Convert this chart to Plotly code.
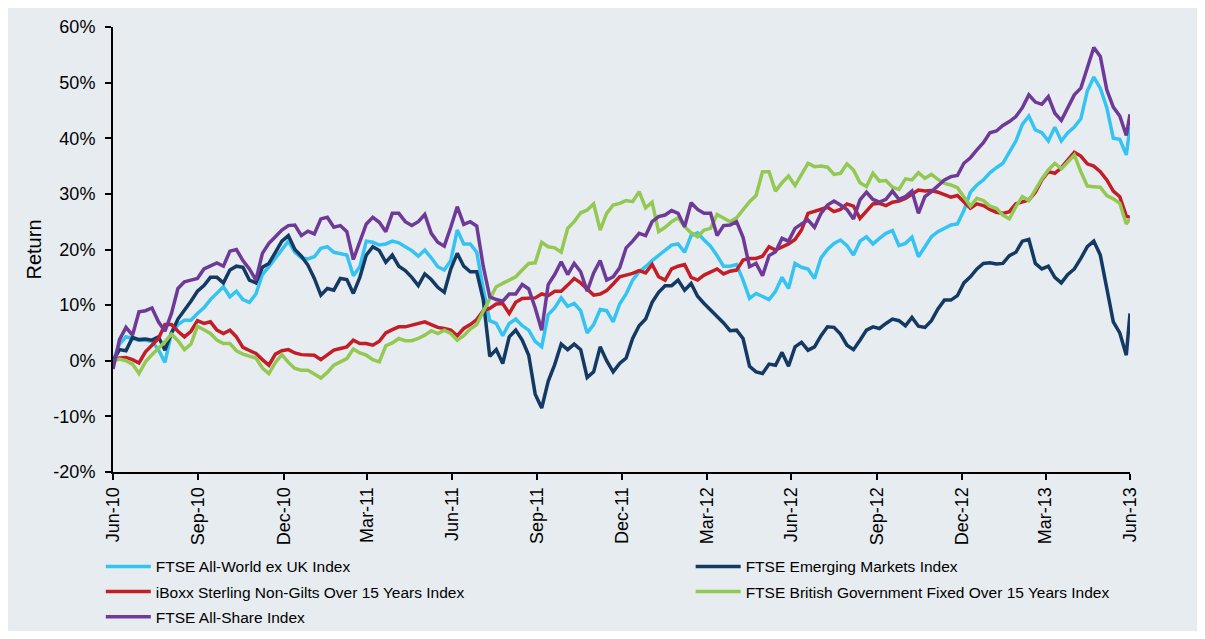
import pandas as pd
import plotly.graph_objects as go

# weekly observation dates, plus the final month-end
dates = list(pd.date_range("2010-06-30", periods=157, freq="7D").strftime("%Y-%m-%d")) + ["2013-06-30"]

# cumulative returns in %
all_world = [0, 3, 4.3, 4, 3.7, 3.7, 3.5, 2, -0.3, 5, 6.5, 7.3, 7.3, 8.5, 9.5, 11, 12.1, 13.3, 11.5, 12.5,
             11, 10.5, 12, 15.5, 16.9, 18.5, 19.9, 21.5, 19.5, 18.5, 18.3, 18.7, 20.2, 20.5, 19.5, 19.3, 19, 15.3, 16.9,
             21.5, 21.3, 20.8, 21, 21.5, 21.2, 20.5, 19.8, 18.8, 19.9, 18.5, 16.9, 16.3, 18, 23.5, 21, 21, 19.5, 13,
             7.2, 6.7, 4.5, 6.7, 7.5, 6.3, 5.5, 3.5, 2.5, 8.3, 9.5, 11.3, 9.8, 10.3, 9, 5, 6.5, 9.2, 9,
             7, 10.2, 12, 14.5, 16, 16.9, 18, 19, 19.9, 20.8, 21, 19.5, 22.5, 23, 21.7, 20.6, 18.9, 17, 17,
             17.3, 14.5, 11.2, 12.1, 11.5, 11, 12.5, 15, 13, 17.5, 16.8, 16.5, 14.8, 18.5, 20, 21.1, 21.7, 20.7, 19, 21.5,
             22.3, 21, 22, 22.9, 23.4, 20.7, 21.1, 22.2, 18.7, 20.5, 22.3, 23.2, 23.8, 24.4, 24.6, 27, 30.3, 31.6, 32.5, 33.8,
             34.7, 35.5, 37.5, 39.5, 42.5, 44, 41.5, 41, 39.5, 42, 39.5, 41, 42, 43.5, 48.5, 51, 49, 45.5, 40, 39.8, 37,
             42]
emerging = [0, 2, 1.8, 4.2, 3.8, 3.9, 3.7, 4.3, 1.9, 5, 7.5, 9, 10.7, 12.5, 13.5, 15, 15, 14, 16.3, 17,
            16.8, 14.5, 14, 16.8, 17.5, 19.5, 21.5, 22.5, 20, 18.8, 17.2, 14.8, 11.8, 13, 12.7, 14.8, 14.6, 12.1, 15,
            19, 20.5, 19.8, 17.7, 19, 17, 16.2, 15, 13.5, 15.6, 14.6, 13.2, 12.3, 16.5, 19.3, 17, 16, 16, 11,
            0.8, 2, -0.5, 4.3, 5.5, 3.7, 1, -6, -8.5, -3.7, -0.7, 3, 2, 3, 2, -3, -2, 2.5, 0,
            -2, -0.5, 0.5, 4, 6.3, 7.5, 10.5, 12.3, 13.5, 13.5, 14.5, 12.7, 13.9, 11.6, 10.3, 9.2, 8, 6.8, 5.4,
            5.5, 4, -1, -2, -2.3, -0.6, -0.8, 1.5, -1, 2.5, 3.3, 1.9, 2.5, 4.5, 6.1, 6, 4.8, 2.8, 2, 3.7,
            5.5, 6.1, 5.8, 6.7, 7.5, 7.2, 6.3, 7.8, 6.2, 6, 7.2, 9.3, 10.9, 10.9, 11.7, 14, 15.1, 16.5, 17.5, 17.6,
            17.4, 17.5, 18.9, 19.5, 21.5, 21.8, 17.5, 16.5, 17, 15, 14, 15.5, 16.5, 18.4, 20.5, 21.5, 19, 13, 7, 5, 1,
            8.5]
iboxx = [0, 0.5, 0.6, 0.2, -0.4, 1.6, 2.8, 4, 6.5, 6.5, 5.3, 4.3, 5.3, 7.2, 6.7, 7, 5.5, 4.9, 5.5, 4.3,
         2.4, 1.9, 1.3, 0.2, -0.8, 1.2, 1.8, 2, 1.4, 1.1, 1, 1, 0.2, 1, 1.9, 2.2, 2.5, 3.7, 3.1,
         3.1, 2.8, 3.5, 5, 5.6, 6.1, 6.1, 6.4, 6.7, 7, 6.5, 6, 5.8, 5.5, 4.5, 5.8, 6.5, 7.4, 9,
         9.4, 10.2, 10.3, 8.5, 10.5, 11.2, 11.2, 11.3, 12, 11.7, 12.5, 12.5, 13.6, 14.8, 14, 12.9, 11.8, 12, 12.6,
         13.8, 15.1, 15.4, 15.7, 16.2, 15.8, 17.3, 15.1, 14.5, 16.5, 17, 17.3, 15, 14.5, 15.4, 16, 16.5, 15.6, 16.1,
         16.3, 18.1, 18.4, 18.4, 18.8, 20.5, 19.9, 20.5, 21, 21.8, 23.5, 26.5, 26.9, 27.2, 27.6, 26.8, 27.2, 28.2, 27.8, 25.6,
         26.8, 28.2, 28.3, 27.9, 28.5, 28.7, 29.2, 30, 30.7, 30.5, 30.6, 30.3, 29.8, 29.4, 29.7, 28.5, 27.4, 28.2, 27.9, 27.2,
         26.7, 26.5, 26.8, 28.2, 28.5, 28.9, 30.3, 32.5, 34, 33.7, 34.7, 36.1, 37.5, 36.8, 35.4, 35, 34, 32.5, 30.5, 29.5, 26,
         25.8]
gilts = [0, 0.3, 0, -0.6, -2.3, -0.2, 1.1, 2.2, 3.4, 4.8, 3.6, 2, 3, 6.2, 5.5, 4.9, 3.7, 3.1, 3.1, 1.8,
         1.2, 0.8, 0.5, -1.3, -2.3, -0.3, 1.1, -0.3, -1.4, -1.7, -1.7, -2.4, -3.1, -2.1, -0.8, -0.2, 0.4, 2.1, 1.4,
         1, 0.2, -0.2, 2.7, 3.2, 4, 3.6, 3.6, 4, 4.6, 5.4, 4.9, 5.5, 4.9, 3.7, 4.5, 5.7, 6.5, 8.9,
         11.2, 13.3, 13.9, 14.5, 15.1, 16.3, 17.5, 17.6, 21.3, 20.5, 20.3, 19.5, 23.8, 25, 26.6, 27.1, 28.2, 23.5, 26.5,
         28, 28.3, 28.8, 28.6, 30.4, 27.5, 28.5, 23.2, 24, 25, 25.7, 24.1, 23, 22.3, 23.5, 23.8, 26.3, 25.7, 25,
         25.7, 27.1, 28.6, 29.7, 34, 34, 30.5, 32, 33.2, 31.5, 33.5, 35.5, 34.9, 35, 34.8, 33.5, 33.7, 35.4, 34.3, 32,
         31.3, 33.7, 32.3, 32.4, 31.2, 30.8, 32.7, 32.5, 33.8, 32.8, 33.5, 32.6, 31.9, 31.6, 31.1, 29.5, 27.8, 29.2, 28.8, 27.8,
         27.4, 26.2, 25.5, 27.7, 29.5, 28.8, 30.9, 32.7, 34.3, 35.5, 34.5, 35.8, 37, 34, 31.4, 31.3, 31.2, 29.7, 29.1, 28.3, 24.6,
         25.5]
all_share = [-1.5, 3.8, 6, 4.6, 8.8, 9, 9.5, 7, 5.3, 8.5, 13, 14.2, 14.5, 14.8, 16.5, 17, 17.6, 17, 19.7, 20,
             18, 16.5, 14.5, 19.3, 21.1, 22.3, 23.5, 24.3, 24.4, 22.5, 23.3, 22.8, 25.5, 25.8, 24, 24.3, 23.2, 18.2, 21.2,
             24.6, 25.8, 24.9, 23.2, 26.5, 26.5, 25, 24.3, 25, 26.3, 22.9, 21.3, 20.6, 24, 27.7, 24.5, 25, 24.2, 17,
             11.5, 11, 10.7, 12, 12, 13.7, 12.9, 9.5, 5.5, 13.7, 15.5, 17.8, 15.5, 17.5, 16, 12.5, 15.8, 18, 14.5,
             15.1, 16.7, 20.3, 21.5, 22.9, 22.5, 25, 25.9, 26.2, 27, 26.5, 24.1, 28.4, 27.2, 26.5, 26.5, 22.5, 24.3, 24.4,
             25, 22.2, 16.9, 17.5, 15.3, 18.9, 19.6, 22, 21.5, 23.8, 24.6, 25.3, 24, 26.5, 28, 28.7, 28, 27.2, 25.5, 28.9,
             30.3, 29, 28.5, 29, 30.5, 29, 29.5, 30.5, 26.5, 29.5, 30.4, 31.5, 32.5, 33.1, 33.3, 35.5, 36.5, 37.9, 39.2, 41,
             41.3, 42.3, 43, 43.9, 45.5, 47.8, 46.5, 46.1, 47.5, 44.5, 43.2, 45.5, 47.8, 49, 52.8, 56.3, 54.7, 48.7, 45.6, 44, 40.5,
             44.3]

tick_dates = ["2010-06-30", "2010-09-30", "2010-12-31", "2011-03-31", "2011-06-30",
              "2011-09-30", "2011-12-31", "2012-03-31", "2012-06-30", "2012-09-30",
              "2012-12-31", "2013-03-31", "2013-06-30"]
tick_labels = ["Jun-10", "Sep-10", "Dec-10", "Mar-11", "Jun-11", "Sep-11", "Dec-11",
               "Mar-12", "Jun-12", "Sep-12", "Dec-12", "Mar-13", "Jun-13"]
y_ticks = [-20, -10, 0, 10, 20, 30, 40, 50, 60]
y_labels = ["-20%", "-10%", "0%", "10%", "20%", "30%", "40%", "50%", "60%"]

# name, values, colour, legend column
series = [
    ("FTSE All-World ex UK Index", all_world, "#35C4F1", "legend"),
    ("FTSE Emerging Markets Index", emerging, "#143A64", "legend2"),
    ("iBoxx Sterling Non-Gilts Over 15 Years Index", iboxx, "#C31E27", "legend"),
    ("FTSE British Government Fixed Over 15 Years Index", gilts, "#93C952", "legend2"),
    ("FTSE All-Share Index", all_share, "#6F3A97", "legend"),
]

bg = "#E7ECF0"

fig = go.Figure()
for name, vals, col, leg in series:
    fig.add_trace(go.Scatter(x=dates, y=vals, mode="lines", name=name,
                             legend=leg, legendgroup=name,
                             line=dict(color=col, width=3.5)))

legend_style = dict(orientation="v", xanchor="left", yanchor="top",
                    itemwidth=45, tracegroupgap=2,
                    font=dict(size=15.5), bgcolor="rgba(0,0,0,0)")

# the page's 8px body margin gives the white frame round the grey panel
fig.update_layout(
    width=1189, height=623,
    margin=dict(l=105, r=67, t=19, b=159, autoexpand=False),
    paper_bgcolor=bg,
    plot_bgcolor=bg,
    font=dict(family="Liberation Sans, Arial, sans-serif", color="black"),
    showlegend=True,
    legend=dict(x=-0.012, y=-0.175, **legend_style),
    legend2=dict(x=0.568, y=-0.175, **legend_style),
    xaxis=dict(type="date", range=[dates[0], dates[-1]],
               tickvals=tick_dates, ticktext=tick_labels, tickangle=-90,
               tickfont=dict(size=18), ticks="outside", ticklen=6, tickwidth=1.5,
               tickcolor="black", showline=True, linecolor="black", linewidth=2,
               showgrid=False, zeroline=False),
    yaxis=dict(range=[-20, 60], tickvals=y_ticks, ticktext=y_labels,
               tickfont=dict(size=18), ticks="outside", ticklen=6, tickwidth=1.5,
               tickcolor="black", showline=True, linecolor="black", linewidth=2,
               showgrid=False, zeroline=False, ticklabelstandoff=6,
               title=dict(text="Return", font=dict(size=20), standoff=6)),
)

fig.write_html("out.html")
